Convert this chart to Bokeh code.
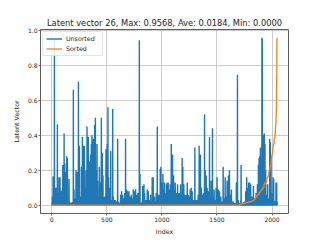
import numpy as np
from bokeh.plotting import figure
from bokeh.models import Range1d, FixedTicker, PrintfTickFormatter, Legend, LegendItem
from bokeh.embed import file_html
from bokeh.resources import INLINE

N = 2048
title_text = "Latent vector 26, Max: 0.9568, Ave: 0.0184, Min: 0.0000"
x_ticks = [0, 500, 1000, 1500, 2000]
y_ticks = [0.0, 0.2, 0.4, 0.6, 0.8, 1.0]

spike_index = [6, 12, 24, 30, 39, 51, 57, 66, 75, 82, 91, 100, 109, 112, 118, 127, 136, 142, 157, 163,
               178, 196, 202, 211, 220, 230, 242, 251, 263, 269, 278, 287, 296, 302, 311, 320, 326, 332, 341, 347,
               353, 359, 365, 372, 378, 384, 390, 396, 402, 411, 417, 426, 432, 441, 450, 459, 465, 474, 486, 492,
               498, 504, 510, 516, 526, 535, 541, 553, 559, 568, 577, 589, 598, 607, 625, 634, 643, 656, 662, 670,
               680, 692, 701, 713, 722, 731, 740, 749, 761, 770, 782, 795, 801, 810, 825, 837, 843, 855, 867, 876,
               885, 897, 912, 921, 933, 943, 949, 958, 964, 976, 985, 991, 1000, 1009, 1015, 1024, 1033, 1042, 1048, 1057,
               1066, 1075, 1085, 1091, 1097, 1106, 1115, 1121, 1130, 1142, 1151, 1160, 1169, 1178, 1184, 1190, 1199, 1208, 1217, 1230,
               1239, 1248, 1257, 1266, 1275, 1287, 1299, 1308, 1320, 1329, 1338, 1344, 1350, 1359, 1369, 1378, 1387, 1393, 1402, 1411,
               1420, 1432, 1438, 1447, 1459, 1465, 1474, 1483, 1492, 1501, 1514, 1523, 1535, 1544, 1556, 1565, 1574, 1583, 1592, 1604,
               1613, 1622, 1631, 1643, 1658, 1676, 1686, 1695, 1710, 1719, 1728, 1752, 1761, 1770, 1776, 1788, 1797, 1806, 1819, 1831,
               1843, 1855, 1867, 1876, 1882, 1888, 1894, 1900, 1908, 1912, 1924, 1930, 1936, 1942, 1951, 1960, 1970, 1979, 1985, 1991,
               2000, 2009, 2015, 2024, 2036, 2042]
spike_value = [0.05, 0.165, 0.943, 0.10, 0.10, 0.462, 0.07, 0.16, 0.16, 0.09, 0.08, 0.23, 0.05, 0.41, 0.24, 0.19, 0.28, 0.27, 0.15, 0.02,
               0.01, 0.66, 0.09, 0.04, 0.20, 0.19, 0.706, 0.34, 0.05, 0.22, 0.39, 0.34, 0.34, 0.10, 0.20, 0.45, 0.30, 0.39, 0.25, 0.14,
               0.29, 0.35, 0.40, 0.15, 0.38, 0.30, 0.46, 0.50, 0.20, 0.35, 0.14, 0.05, 0.22, 0.13, 0.50, 0.30, 0.17, 0.05, 0.05, 0.32,
               0.08, 0.35, 0.56, 0.16, 0.10, 0.31, 0.03, 0.55, 0.05, 0.03, 0.03, 0.02, 0.38, 0.02, 0.06, 0.08, 0.06, 0.04, 0.07, 0.38,
               0.09, 0.08, 0.08, 0.05, 0.06, 0.04, 0.09, 0.08, 0.09, 0.06, 0.07, 0.943, 0.18, 0.01, 0.11, 0.12, 0.07, 0.03, 0.09, 0.08,
               0.03, 0.06, 0.16, 0.16, 0.05, 0.02, 0.07, 0.45, 0.06, 0.06, 0.21, 0.22, 0.13, 0.18, 0.09, 0.13, 0.07, 0.12, 0.13, 0.13,
               0.09, 0.12, 0.35, 0.24, 0.29, 0.17, 0.09, 0.13, 0.07, 0.12, 0.07, 0.07, 0.12, 0.06, 0.27, 0.22, 0.12, 0.06, 0.06, 0.13,
               0.06, 0.05, 0.09, 0.10, 0.08, 0.03, 0.33, 0.03, 0.03, 0.06, 0.34, 0.22, 0.29, 0.10, 0.06, 0.07, 0.52, 0.20, 0.17, 0.10,
               0.08, 0.39, 0.05, 0.14, 0.44, 0.04, 0.09, 0.03, 0.10, 0.16, 0.09, 0.08, 0.05, 0.02, 0.22, 0.04, 0.16, 0.05, 0.14, 0.17,
               0.20, 0.06, 0.09, 0.02, 0.01, 0.13, 0.746, 0.03, 0.01, 0.23, 0.01, 0.02, 0.08, 0.16, 0.10, 0.13, 0.13, 0.12, 0.05, 0.11,
               0.04, 0.07, 0.12, 0.23, 0.27, 0.28, 0.33, 0.26, 0.9568, 0.95, 0.40, 0.41, 0.35, 0.20, 0.06, 0.12, 0.04, 0.38, 0.36, 0.28,
               0.07, 0.16, 0.15, 0.02, 0.13, 0.13]

low_index = [3, 18, 45, 70, 86, 104, 123, 148, 170, 185, 207, 226, 258, 292, 337, 362, 399, 421, 447, 469,
             480, 521, 547, 564, 583, 595, 616, 630, 649, 668, 686, 707, 727, 744, 756, 776, 789, 817, 831, 849,
             861, 873, 891, 905, 927, 939, 970, 996, 1020, 1038, 1062, 1080, 1111, 1136, 1147, 1165, 1194, 1212, 1224, 1235,
             1252, 1262, 1281, 1293, 1314, 1325, 1335, 1355, 1364, 1374, 1398, 1415, 1426, 1442, 1453, 1470, 1488, 1497, 1508, 1518,
             1529, 1540, 1550, 1561, 1578, 1588, 1599, 1618, 1627, 1637, 1649, 1664, 1670, 1681, 1703, 1716, 1734, 1742, 1757, 1781,
             1793, 1802, 1813, 1825, 1837, 1849, 1861, 1872, 1946, 1956, 1965, 1975, 1996, 2004, 2020, 2030, 2046]
low_value = [0.012, 0.008, 0.020, 0.006, 0.015, 0.010, 0.025, 0.004, 0.012, 0.018, 0.007, 0.022, 0.014, 0.009, 0.026, 0.011, 0.016, 0.005, 0.019, 0.013,
             0.008, 0.021, 0.006, 0.017, 0.010, 0.024, 0.012, 0.007, 0.015, 0.020, 0.009, 0.013, 0.005, 0.018, 0.011, 0.023, 0.006, 0.016, 0.010, 0.014,
             0.008, 0.019, 0.012, 0.025, 0.007, 0.015, 0.011, 0.020, 0.006, 0.017, 0.013, 0.009, 0.022, 0.005, 0.016, 0.012, 0.018, 0.008, 0.024, 0.010,
             0.014, 0.007, 0.019, 0.011, 0.021, 0.006, 0.015, 0.013, 0.009, 0.023, 0.010, 0.017, 0.005, 0.020, 0.012, 0.008, 0.016, 0.014, 0.022, 0.006,
             0.018, 0.011, 0.009, 0.025, 0.013, 0.007, 0.019, 0.010, 0.015, 0.005, 0.021, 0.012, 0.008, 0.017, 0.014, 0.026, 0.009, 0.018, 0.011, 0.023,
             0.015, 0.027, 0.012, 0.020, 0.028, 0.016, 0.022, 0.030, 0.018, 0.025, 0.014, 0.021, 0.029, 0.017, 0.024, 0.013, 0.019]

unsorted = np.zeros(N)
unsorted[low_index] = low_value
unsorted[spike_index] = spike_value
sorted_vals = np.sort(unsorted)
idx = np.arange(N)

FONT = "DejaVu Sans"
TXT = "#262626"

p = figure(width=320, height=240, output_backend="svg", toolbar_location=None,
           x_range=Range1d(-102.35, 2149.35), y_range=Range1d(-0.04784, 1.00464),
           min_border_left=40, min_border_right=32, min_border_top=29, min_border_bottom=27,
           title=title_text)
p.title.text_font = FONT
p.title.text_font_size = "8.3px"
p.title.text_font_style = "normal"
p.title.text_color = TXT
p.title.align = "center"
p.title.standoff = 3

p.background_fill_color = "white"
p.border_fill_color = "white"
p.outline_line_color = "#333333"
p.outline_line_width = 0.8

for ax in (p.xaxis[0], p.yaxis[0]):
    ax.axis_line_color = None
    ax.major_tick_line_color = "#333333"
    ax.major_tick_line_width = 0.7
    ax.major_tick_in = 0
    ax.major_tick_out = 2
    ax.minor_tick_line_color = None
    ax.major_label_text_font = FONT
    ax.major_label_text_font_size = "6px"
    ax.major_label_text_color = TXT
    ax.axis_label_text_font = FONT
    ax.axis_label_text_font_size = "6.3px"
    ax.axis_label_text_font_style = "normal"
    ax.axis_label_text_color = TXT
    ax.major_label_standoff = 1

p.xaxis.ticker = FixedTicker(ticks=x_ticks)
p.yaxis.ticker = FixedTicker(ticks=y_ticks)
p.yaxis.formatter = PrintfTickFormatter(format="%.1f")
p.xaxis.axis_label = "Index"
p.yaxis.axis_label = "Latent Vector"
p.xaxis.axis_label_standoff = 3
p.yaxis.axis_label_standoff = 5

p.xgrid.ticker = FixedTicker(ticks=x_ticks)
p.ygrid.ticker = FixedTicker(ticks=y_ticks)
p.grid.grid_line_color = "#b0b0b0"
p.grid.grid_line_width = 0.8
p.grid.grid_line_alpha = 0.8

r1 = p.line(idx, unsorted, line_color="#1f77b4", line_width=1.4)
r2 = p.line(idx, sorted_vals, line_color="#ff7f0e", line_width=1.3)

legend = Legend(items=[LegendItem(label="Unsorted", renderers=[r1]),
                       LegendItem(label="Sorted", renderers=[r2])],
                location="top_left")
legend.margin = 2
legend.padding = 3
legend.spacing = 3
legend.glyph_width = 16
legend.glyph_height = 7
legend.label_height = 7
legend.label_width = 33
legend.label_standoff = 4
legend.label_text_font = FONT
legend.label_text_font_size = "6.3px"
legend.label_text_color = TXT
legend.border_line_color = "#cccccc"
legend.border_line_width = 0.8
legend.border_radius = 2
legend.background_fill_alpha = 0.8
p.add_layout(legend)

open("out.html", "w").write(file_html(p, INLINE))
